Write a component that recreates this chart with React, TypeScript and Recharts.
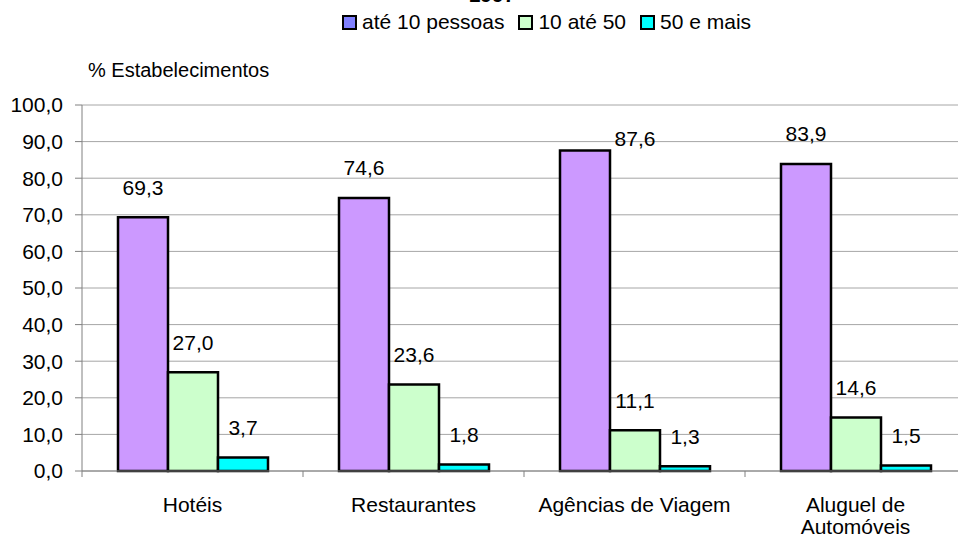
import { BarChart, Bar, XAxis, YAxis, CartesianGrid, LabelList } from "recharts";

const categories = ["Hotéis", "Restaurantes", "Agências de Viagem", "Aluguel de Automóveis"];
const categoryLines = [["Hotéis"], ["Restaurantes"], ["Agências de Viagem"], ["Aluguel de", "Automóveis"]];
const ate10 = [69.3, 74.6, 87.6, 83.9];
const de10a50 = [27.0, 23.6, 11.1, 14.6];
const mais50 = [3.7, 1.8, 1.3, 1.5];
const yTicks = [0, 10, 20, 30, 40, 50, 60, 70, 80, 90, 100];

const series = [
  { key: "ate10", name: "até 10 pessoas", fill: "#cc99ff", swatch: "#8080ff" },
  { key: "de10a50", name: "10 até 50", fill: "#ccffcc", swatch: "#ccffcc" },
  { key: "mais50", name: "50 e mais", fill: "#00ffff", swatch: "#00ffff" },
];

const data = categories.map((c, i) => ({
  name: c,
  ate10: ate10[i],
  de10a50: de10a50[i],
  mais50: mais50[i],
}));

const FONT = "'Liberation Sans', Arial, sans-serif";
const fmt = (v: number) => v.toFixed(1).replace(".", ",");
const BAND = 221;

function CategoryTick(props: any) {
  const { x, y, payload } = props;
  const lines = categoryLines[payload.index] || [payload.value];
  return (
    <g>
      <line x1={x - BAND / 2} x2={x - BAND / 2} y1={y} y2={y + 6} stroke="#808080" />
      {lines.map((l: string, i: number) => (
        <text key={i} x={x} y={y + 41 + i * 22} textAnchor="middle" fontSize={21} fill="#000" fontFamily={FONT}>
          {l}
        </text>
      ))}
    </g>
  );
}

function renderLabel(props: any) {
  const { x, y, width, value } = props;
  let cx = x + width / 2;
  let cy = y - 30;
  // label that would hit the top gridline gets pushed aside, as the original did
  if (cy < 125) {
    cx += width;
    cy = y - 12;
  }
  return (
    <text x={cx} y={cy} textAnchor="middle" dominantBaseline="central" fontSize={21} fill="#000" fontFamily={FONT}>
      {fmt(value)}
    </text>
  );
}

export default function App() {
  return (
    <div
      style={{
        position: "absolute",
        left: 0,
        top: 0,
        width: 958,
        height: 542,
        overflow: "hidden",
        background: "#fff",
        fontFamily: FONT,
      }}
    >
      <div
        style={{ position: "absolute", left: 442, top: -17, width: 100, textAlign: "center", fontWeight: "bold", fontSize: 21 }}
      >
        1997
      </div>
      <div style={{ position: "absolute", left: 342, top: 10, display: "flex", alignItems: "center", fontSize: 21 }}>
        {series.map((s) => (
          <div key={s.key} style={{ display: "flex", alignItems: "center", marginRight: 14 }}>
            <span
              style={{
                display: "inline-block",
                width: 11,
                height: 11,
                border: "2.5px solid #000",
                background: s.swatch,
                marginRight: 5,
              }}
            />
            <span>{s.name}</span>
          </div>
        ))}
      </div>
      <div style={{ position: "absolute", left: 88, top: 59, fontSize: 20 }}>% Estabelecimentos</div>
      <BarChart
        width={980}
        height={542}
        data={data}
        margin={{ top: 105, right: 14, left: 0, bottom: 0 }}
        barCategoryGap={36}
        barGap={0}
      >
        <CartesianGrid vertical={false} stroke="#a6a6a6" />
        <XAxis
          dataKey="name"
          height={71}
          interval={0}
          stroke="#808080"
          tickLine={false}
          tickSize={0}
          tickMargin={0}
          tick={<CategoryTick />}
        />
        <YAxis
          width={82}
          domain={[0, 100]}
          ticks={yTicks}
          interval={0}
          stroke="#808080"
          tickSize={7}
          tickMargin={12}
          tickFormatter={fmt}
          tick={{ fill: "#000", fontSize: 21, fontFamily: FONT }}
        />
        {series.map((s) => (
          <Bar key={s.key} dataKey={s.key} name={s.name} fill={s.fill} stroke="#000" strokeWidth={2.5} isAnimationActive={false}>
            <LabelList dataKey={s.key} content={renderLabel} />
          </Bar>
        ))}
      </BarChart>
    </div>
  );
}
